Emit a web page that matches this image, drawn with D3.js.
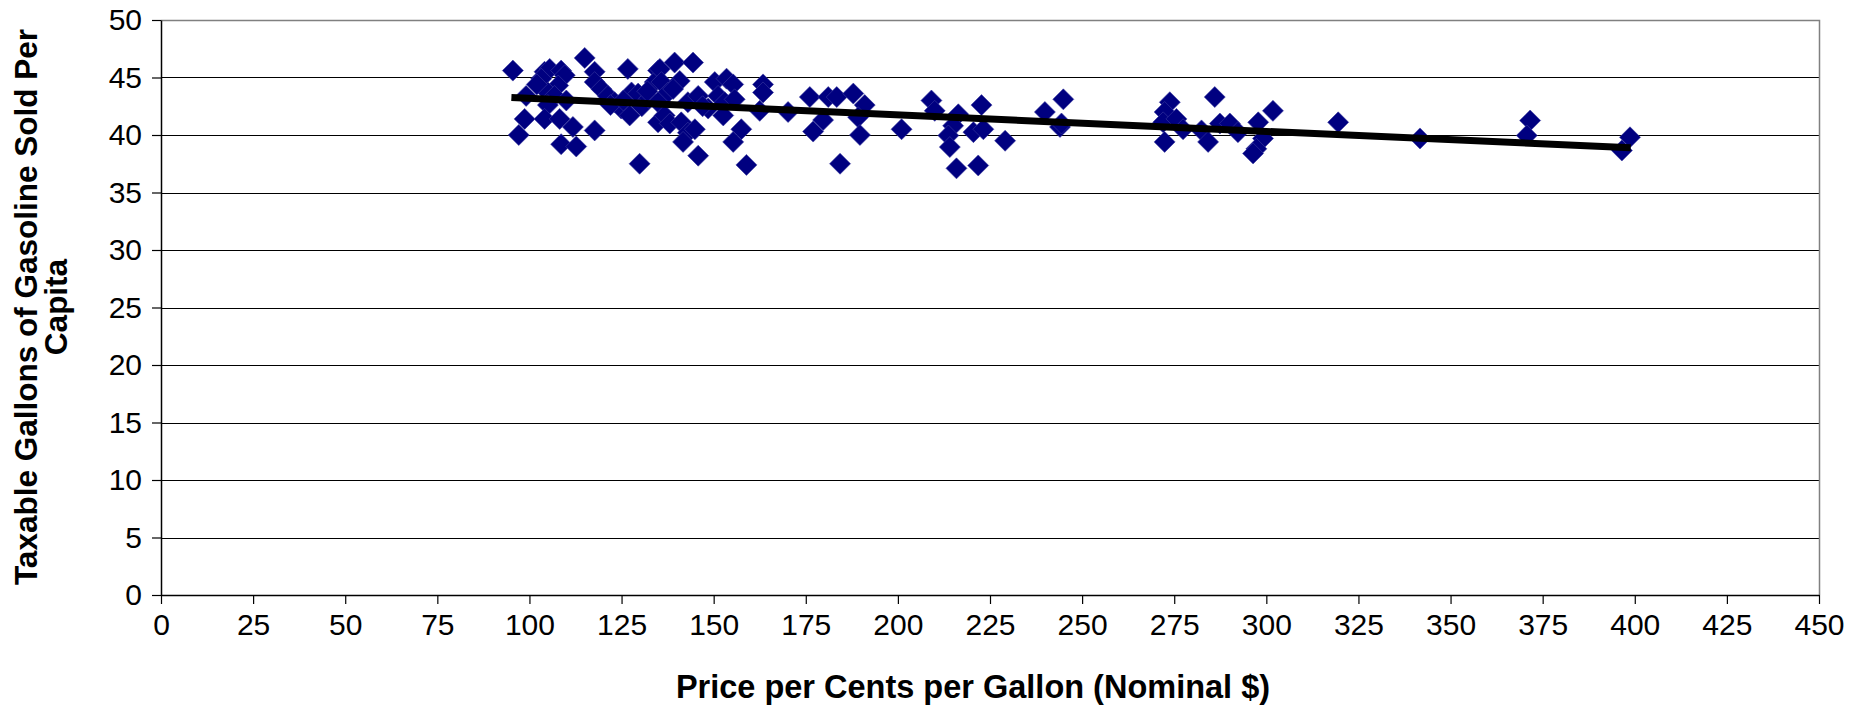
<!DOCTYPE html>
<html>
<head>
<meta charset="utf-8">
<script src="https://cdn.jsdelivr.net/npm/d3@7"></script>
<style>
  html, body { margin: 0; padding: 0; background: #fff; }
  svg { display: block; }
  text { font-family: "Liberation Sans", Arial, sans-serif; fill: #000; }
</style>
</head>
<body>
<svg id="chart" width="1851" height="708"></svg>
<script>
// ---- Data ----
const priceCents = [
  95.5, 99.1, 98.7, 97.1, 104.1, 105.5, 103.2, 108.6, 109.6, 107.8,
  105.0, 106.8, 105.0, 104.1, 108.2, 111.8, 108.6, 112.7, 115.0, 117.7,
  117.7, 119.5, 121.3, 117.7, 123.1, 124.9, 126.7, 127.7, 127.2, 129.5,
  129.9, 134.9, 134.0, 134.9, 102.0, 110.0, 122.0, 130.5, 132.5, 125.5,
  135.4, 139.4, 144.4, 135.8, 140.8, 137.6, 134.9, 136.7, 138.1, 141.2,
  143.0, 141.7, 144.9, 145.8, 143.0, 145.8, 150.3, 153.5, 155.3, 151.2,
  148.5, 153.0, 152.6, 155.7, 157.5, 155.3, 158.9, 163.4, 163.4, 162.5,
  170.2, 176.1, 177.0, 139.0, 147.0, 132.0,
  179.7, 181.1, 183.4, 187.9, 191.0, 189.2, 189.7, 184.3, 201.0, 209.1,
  210.0, 216.4, 215.0, 213.7, 214.1, 215.9, 222.7, 220.5, 223.2, 221.8,
  229.1, 239.9, 244.9, 244.0, 244.4,
  273.8, 272.4, 272.0, 275.6, 277.4, 272.4, 282.4, 284.2, 286.0, 287.4,
  290.1, 292.3, 297.8, 299.1, 297.3, 296.4, 301.8, 319.5, 341.7,
  371.6, 370.7, 398.7, 396.5
];
const gallonsPerCapita = [
  45.6, 43.4, 41.4, 40.0, 45.5, 45.75, 44.9, 45.6, 45.2, 44.3,
  43.7, 43.4, 42.6, 41.4, 41.4, 40.7, 39.2, 39.0, 46.7, 45.5,
  44.6, 44.0, 43.4, 40.4, 42.85, 42.3, 45.75, 43.7, 41.7, 43.6,
  37.5, 45.6, 44.6, 41.1, 44.4, 43.0, 42.6, 42.5, 43.2, 43.0,
  45.75, 46.3, 46.3, 44.6, 44.7, 43.7, 42.85, 41.7, 41.0, 41.1,
  40.2, 39.4, 40.5, 38.2, 42.85, 43.4, 44.6, 44.9, 44.4, 43.4,
  42.3, 42.85, 41.7, 43.1, 40.5, 39.4, 37.4, 44.4, 43.7, 42.1,
  42.0, 43.3, 40.3, 44.0, 42.5, 43.8,
  41.3, 43.3, 43.3, 43.6, 42.6, 41.55, 40.0, 37.5, 40.5, 43.0,
  42.1, 41.8, 40.8, 39.96, 38.95, 37.1, 42.6, 40.25, 40.5, 37.35,
  39.5, 42.0, 43.1, 40.7, 41.0,
  42.85, 42.0, 41.1, 41.4, 40.5, 39.4, 40.4, 39.4, 43.3, 41.0,
  41.0, 40.25, 41.1, 39.7, 38.8, 38.4, 42.1, 41.1, 39.7,
  41.26, 39.96, 39.8, 38.65
];
// trend line end points (price, gallons)
const trendPrice = [95.1, 398.9];
const trendGallons = [43.26, 38.89];

const xTicks = [0, 25, 50, 75, 100, 125, 150, 175, 200, 225, 250, 275, 300, 325, 350, 375, 400, 425, 450];
const yTicks = [0, 5, 10, 15, 20, 25, 30, 35, 40, 45, 50];

const xTitle = "Price per Cents per Gallon (Nominal $)";
const yTitleLines = ["Taxable Gallons of Gasoline Sold Per", "Capita"];

// ---- Layout ----
const svg = d3.select("#chart");
const plot = { left: 161, top: 20, right: 1819, bottom: 595 };

const x = d3.scaleLinear().domain([0, 450]).range([plot.left, plot.right]);
const y = d3.scaleLinear().domain([0, 50]).range([plot.bottom, plot.top]);

// gridlines
svg.append("g")
  .selectAll("line")
  .data(yTicks.filter(d => d > 0 && d < 50))
  .join("line")
  .attr("x1", plot.left).attr("x2", plot.right)
  .attr("y1", d => Math.round(y(d)) + 0.5).attr("y2", d => Math.round(y(d)) + 0.5)
  .attr("stroke", "#000").attr("stroke-width", 1);

// plot border (top & right grey)
svg.append("path")
  .attr("d", `M${plot.left},${plot.top + 0.5}H${plot.right + 0.5}V${plot.bottom}`)
  .attr("fill", "none").attr("stroke", "#808080").attr("stroke-width", 1.5);

// axes
const xAxis = d3.axisBottom(x).tickValues(xTicks).tickSize(9).tickPadding(10).tickSizeOuter(0);
const yAxis = d3.axisLeft(y).tickValues(yTicks).tickSize(9).tickPadding(10).tickSizeOuter(0);

const gx = svg.append("g").attr("transform", `translate(0,${plot.bottom})`).call(xAxis);
const gy = svg.append("g").attr("transform", `translate(${plot.left},0)`).call(yAxis);
[gx, gy].forEach(g => {
  g.select(".domain").attr("stroke", "#000").attr("stroke-width", 1.5);
  g.selectAll(".tick line").attr("stroke", "#000").attr("stroke-width", 1.2);
  g.selectAll(".tick text").attr("font-size", 30).attr("font-family", "Liberation Sans, Arial, sans-serif").attr("fill", "#000");
});

// points (diamonds)
const r = 10.5;
const diamond = `M0,${-r}L${r},0L0,${r}L${-r},0Z`;
svg.append("g")
  .selectAll("path")
  .data(priceCents.map((p, i) => [p, gallonsPerCapita[i]]))
  .join("path")
  .attr("d", diamond)
  .attr("transform", d => `translate(${x(d[0])},${y(d[1])})`)
  .attr("fill", "#000080")
  .attr("stroke", "#3a3aa0")
  .attr("stroke-width", 0.6);

// trend line
const line = d3.line().x(d => x(d[0])).y(d => y(d[1]));
svg.append("path")
  .datum(trendPrice.map((p, i) => [p, trendGallons[i]]))
  .attr("d", line)
  .attr("fill", "none")
  .attr("stroke", "#000")
  .attr("stroke-width", 7);

// axis titles
svg.append("text")
  .attr("x", 973).attr("y", 698)
  .attr("text-anchor", "middle")
  .attr("font-size", 32.5).attr("font-weight", "bold")
  .text(xTitle);

const yt = svg.append("text")
  .attr("transform", "translate(37,307) rotate(-90)")
  .attr("text-anchor", "middle")
  .attr("font-size", 31.5).attr("font-weight", "bold");
yTitleLines.forEach((t, i) => {
  yt.append("tspan").attr("x", 0).attr("dy", i === 0 ? 0 : 30).text(t);
});
</script>
</body>
</html>
